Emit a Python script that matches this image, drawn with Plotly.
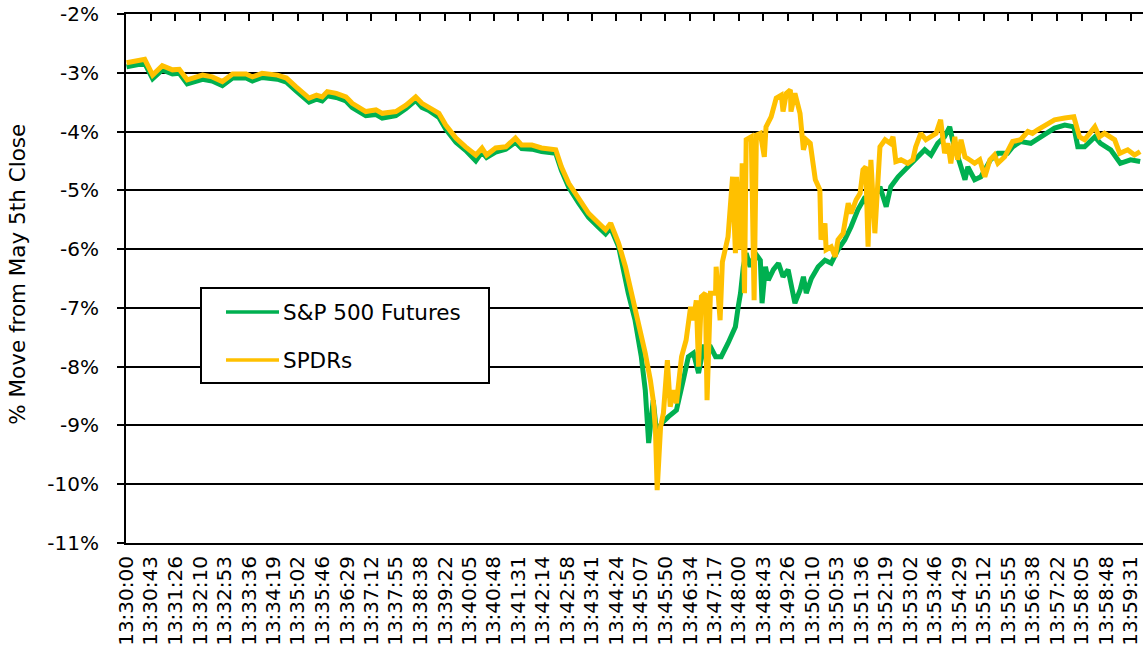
import plotly.graph_objects as go

DAY = "2010-05-06 "

# S&P 500 Futures (green) – time stamps and % move from May 5th close
fut_times = [
    "13:30:00", "13:30:32", "13:30:46", "13:31:03", "13:31:21", "13:31:33", "13:31:47", "13:32:14",
    "13:32:31", "13:32:49", "13:33:07", "13:33:31", "13:33:42", "13:33:59", "13:34:26", "13:34:42",
    "13:34:59", "13:35:22", "13:35:35", "13:35:45", "13:35:54", "13:36:10", "13:36:27", "13:36:38",
    "13:37:02", "13:37:20", "13:37:31", "13:37:55", "13:38:13", "13:38:30", "13:38:41", "13:38:53",
    "13:39:11", "13:39:23", "13:39:41", "13:39:58", "13:40:16", "13:40:27", "13:40:35", "13:40:51",
    "13:41:09", "13:41:26", "13:41:37", "13:41:55", "13:42:12", "13:42:37", "13:42:47", "13:43:00",
    "13:43:17", "13:43:35", "13:43:53", "13:44:05", "13:44:14", "13:44:24", "13:44:28", "13:44:45",
    "13:44:57", "13:45:08", "13:45:15", "13:45:21", "13:45:29", "13:45:35", "13:45:44", "13:45:56",
    "13:46:10", "13:46:22", "13:46:31", "13:46:40", "13:46:49", "13:46:58", "13:47:10", "13:47:19",
    "13:47:29", "13:47:41", "13:47:54", "13:47:59", "13:48:03", "13:48:08", "13:48:13", "13:48:20",
    "13:48:29", "13:48:38", "13:48:41", "13:48:47", "13:48:52", "13:49:01", "13:49:10", "13:49:18",
    "13:49:27", "13:49:39", "13:49:48", "13:49:54", "13:49:59", "13:50:08", "13:50:20", "13:50:32",
    "13:50:43", "13:50:55", "13:51:07", "13:51:18", "13:51:30", "13:51:43", "13:51:51", "13:52:00",
    "13:52:09", "13:52:20", "13:52:28", "13:52:41", "13:52:53", "13:53:04", "13:53:16", "13:53:28",
    "13:53:39", "13:53:51", "13:54:03", "13:54:12", "13:54:17", "13:54:26", "13:54:39", "13:54:44",
    "13:54:56", "13:55:07", "13:55:16", "13:55:24", "13:55:37", "13:55:54", "13:56:03", "13:56:17",
    "13:56:35", "13:56:52", "13:57:17", "13:57:35", "13:57:51", "13:57:58", "13:58:10", "13:58:28",
    "13:58:38", "13:58:56", "13:59:13", "13:59:31", "13:59:48",
]
fut_values = [
    -2.90, -2.84, -3.10, -2.95, -3.02, -3.01, -3.19, -3.11,
    -3.14, -3.22, -3.09, -3.09, -3.14, -3.08, -3.11, -3.16,
    -3.31, -3.50, -3.45, -3.48, -3.39, -3.42, -3.48, -3.59,
    -3.73, -3.71, -3.77, -3.73, -3.61, -3.47, -3.59, -3.64,
    -3.76, -3.96, -4.18, -4.32, -4.50, -4.35, -4.44, -4.35,
    -4.30, -4.18, -4.29, -4.30, -4.34, -4.37, -4.66, -4.95,
    -5.21, -5.46, -5.63, -5.74, -5.64, -5.86, -5.96, -6.75,
    -7.21, -7.83, -8.40, -9.30, -8.57, -9.13, -8.96, -8.85,
    -8.74, -8.23, -7.83, -7.77, -8.11, -7.66, -7.66, -7.83,
    -7.83, -7.60, -7.32, -6.98, -6.75, -6.30, -6.07, -6.30,
    -6.07, -6.19, -6.92, -6.30, -6.53, -6.35, -6.24, -6.47,
    -6.35, -6.92, -6.70, -6.47, -6.75, -6.50, -6.30, -6.19,
    -6.24, -6.01, -5.84, -5.62, -5.33, -5.11, -5.39, -5.11,
    -4.94, -5.28, -4.94, -4.77, -4.65, -4.54, -4.43, -4.31,
    -4.40, -4.20, -4.09, -3.92, -4.14, -4.43, -4.82, -4.60,
    -4.82, -4.77, -4.60, -4.48, -4.37, -4.37, -4.26, -4.17,
    -4.20, -4.09, -3.94, -3.89, -3.92, -4.26, -4.26, -4.09,
    -4.20, -4.31, -4.54, -4.48, -4.51,
]

# SPDRs (gold)
spy_times = [
    "13:30:00", "13:30:32", "13:30:46", "13:31:03", "13:31:21", "13:31:33", "13:31:47", "13:32:14",
    "13:32:31", "13:32:49", "13:33:07", "13:33:31", "13:33:42", "13:33:59", "13:34:26", "13:34:42",
    "13:34:59", "13:35:22", "13:35:35", "13:35:45", "13:35:54", "13:36:10", "13:36:27", "13:36:38",
    "13:37:02", "13:37:20", "13:37:31", "13:37:55", "13:38:13", "13:38:30", "13:38:41", "13:38:53",
    "13:39:11", "13:39:23", "13:39:41", "13:39:58", "13:40:16", "13:40:27", "13:40:35", "13:40:51",
    "13:41:09", "13:41:26", "13:41:37", "13:41:55", "13:42:12", "13:42:37", "13:42:47", "13:43:00",
    "13:43:17", "13:43:35", "13:43:53", "13:44:05", "13:44:14", "13:44:24", "13:44:28", "13:44:40",
    "13:44:51", "13:45:03", "13:45:15", "13:45:24", "13:45:29", "13:45:33", "13:45:36", "13:45:42",
    "13:45:47", "13:45:54", "13:45:59", "13:46:05", "13:46:10", "13:46:19", "13:46:27", "13:46:35",
    "13:46:40", "13:46:45", "13:46:49", "13:46:54", "13:47:01", "13:47:04", "13:47:10", "13:47:19",
    "13:47:20", "13:47:27", "13:47:31", "13:47:41", "13:47:49", "13:47:54", "13:47:56", "13:48:03",
    "13:48:06", "13:48:10", "13:48:13", "13:48:22", "13:48:27", "13:48:31", "13:48:38", "13:48:45",
    "13:48:48", "13:48:57", "13:49:06", "13:49:15", "13:49:18", "13:49:24", "13:49:31", "13:49:32",
    "13:49:39", "13:49:48", "13:49:54", "13:49:59", "13:50:06", "13:50:15", "13:50:23", "13:50:25",
    "13:50:32", "13:50:34", "13:50:43", "13:50:50", "13:50:55", "13:51:04", "13:51:13", "13:51:18",
    "13:51:27", "13:51:34", "13:51:39", "13:51:44", "13:51:48", "13:51:53", "13:52:00", "13:52:09",
    "13:52:18", "13:52:27", "13:52:32", "13:52:37", "13:52:46", "13:52:58", "13:53:07", "13:53:12",
    "13:53:21", "13:53:30", "13:53:39", "13:53:48", "13:53:56", "13:54:03", "13:54:09", "13:54:14",
    "13:54:21", "13:54:26", "13:54:32", "13:54:39", "13:54:47", "13:54:56", "13:55:05", "13:55:14",
    "13:55:23", "13:55:31", "13:55:37", "13:55:49", "13:56:03", "13:56:17", "13:56:30", "13:56:38",
    "13:56:47", "13:57:01", "13:57:17", "13:57:35", "13:57:51", "13:58:01", "13:58:10", "13:58:28",
    "13:58:36", "13:58:45", "13:59:03", "13:59:12", "13:59:26", "13:59:38", "13:59:48",
]
spy_values = [
    -2.83, -2.77, -3.04, -2.88, -2.95, -2.94, -3.12, -3.04,
    -3.07, -3.15, -3.02, -3.02, -3.07, -3.01, -3.04, -3.09,
    -3.24, -3.43, -3.38, -3.41, -3.32, -3.35, -3.41, -3.52,
    -3.66, -3.63, -3.69, -3.66, -3.55, -3.41, -3.52, -3.58,
    -3.69, -3.89, -4.11, -4.26, -4.40, -4.28, -4.40, -4.28,
    -4.26, -4.11, -4.23, -4.23, -4.28, -4.31, -4.60, -4.88,
    -5.14, -5.39, -5.56, -5.67, -5.56, -5.79, -5.90, -6.30,
    -6.75, -7.21, -7.77, -8.23, -8.57, -9.08, -10.10, -9.02,
    -8.79, -7.89, -8.68, -8.40, -8.62, -7.83, -7.55, -6.98,
    -7.21, -6.87, -8.00, -6.81, -6.75, -8.57, -6.75, -6.75,
    -6.30, -7.21, -6.22, -5.79, -4.77, -6.07, -4.77, -6.01,
    -4.54, -6.75, -4.14, -4.09, -6.87, -4.06, -4.03, -4.43,
    -3.92, -3.75, -3.43, -3.38, -3.66, -3.35, -3.29, -3.66,
    -3.35, -3.69, -4.31, -4.14, -4.20, -4.82, -4.99, -5.84,
    -5.56, -6.01, -5.96, -6.13, -5.84, -5.73, -5.22, -5.39,
    -5.16, -5.05, -4.65, -4.60, -5.96, -4.48, -5.73, -4.26,
    -4.14, -4.20, -4.09, -4.51, -4.48, -4.54, -4.48, -4.26,
    -4.03, -4.14, -4.09, -4.03, -3.80, -4.37, -4.20, -4.54,
    -4.09, -4.48, -4.14, -4.43, -4.48, -4.54, -4.48, -4.77,
    -4.48, -4.40, -4.54, -4.43, -4.17, -4.14, -4.00, -4.03,
    -3.97, -3.89, -3.80, -3.77, -3.75, -4.09, -4.14, -3.92,
    -4.09, -4.03, -4.14, -4.37, -4.31, -4.40, -4.34,
]

# Category tick labels
tick_labels = [
    "13:30:00", "13:30:43", "13:31:26", "13:32:10", "13:32:53", "13:33:36", "13:34:19",
    "13:35:02", "13:35:46", "13:36:29", "13:37:12", "13:37:55", "13:38:38", "13:39:22",
    "13:40:05", "13:40:48", "13:41:31", "13:42:14", "13:42:58", "13:43:41", "13:44:24",
    "13:45:07", "13:45:50", "13:46:34", "13:47:17", "13:48:00", "13:48:43", "13:49:26",
    "13:50:10", "13:50:53", "13:51:36", "13:52:19", "13:53:02", "13:53:46", "13:54:29",
    "13:55:12", "13:55:55", "13:56:38", "13:57:22", "13:58:05", "13:58:48", "13:59:31",
]
y_ticks = [-2, -3, -4, -5, -6, -7, -8, -9, -10, -11]

series_names = ["S&P 500 Futures", "SPDRs"]
series_colors = ["#00B050", "#FFC000"]

FONT = "DejaVu Sans"
W, H = 1143, 666
L, R, T, B = 126, 0, 14, 123
PW, PH = W - L - R, H - T - B

fig = go.Figure()
fig.add_trace(go.Scatter(
    x=[DAY + t for t in fut_times], y=fut_values, mode="lines", name=series_names[0],
    line=dict(color=series_colors[0], width=5), showlegend=False,
))
fig.add_trace(go.Scatter(
    x=[DAY + t for t in spy_times], y=spy_values, mode="lines", name=series_names[1],
    line=dict(color=series_colors[1], width=5), showlegend=False,
))
# invisible trace to activate the top tick axis
fig.add_trace(go.Scatter(
    x=[DAY + tick_labels[0]], y=[-2], xaxis="x2", mode="markers",
    marker=dict(opacity=0), showlegend=False, hoverinfo="skip",
))

tickvals = [DAY + t for t in tick_labels]
xrange = [DAY + "13:29:59", DAY + "13:59:53"]

fig.update_layout(
    width=W, height=H,
    margin=dict(l=L, r=R, t=T, b=B, autoexpand=False),
    paper_bgcolor="white", plot_bgcolor="white",
    font=dict(family=FONT, color="black", size=19),
    showlegend=False,
    xaxis=dict(
        type="date", range=xrange, tickmode="array", tickvals=tickvals, ticktext=tick_labels,
        tickangle=-90, ticks="", showgrid=False, zeroline=False,
        showline=True, linecolor="black", linewidth=2,
        tickfont=dict(family=FONT, size=20), ticklabelstandoff=3,
        ticklabeloverflow="allow",
    ),
    xaxis2=dict(
        type="date", range=xrange, overlaying="x", side="top", anchor="y",
        tickmode="array", tickvals=tickvals, showticklabels=False,
        ticks="inside", ticklen=7, tickwidth=1.5, tickcolor="black",
        showgrid=False, zeroline=False, showline=True, linecolor="black", linewidth=2,
    ),
    yaxis=dict(
        range=[-11, -2], tickmode="array", tickvals=y_ticks,
        ticktext=[f"{v}%" for v in y_ticks],
        ticks="outside", ticklen=7, tickwidth=2, tickcolor="black",
        showgrid=True, gridcolor="black", gridwidth=2, zeroline=False,
        showline=True, linecolor="black", linewidth=2,
        tickfont=dict(family=FONT, size=20), ticklabelstandoff=14,
    ),
)

# y-axis title
fig.add_annotation(
    text="% Move from May 5th Close", textangle=-90,
    xref="paper", yref="paper", x=(18 - L) / PW, y=0.507,
    xanchor="center", yanchor="middle", showarrow=False,
    font=dict(family=FONT, size=21.5, color="black"),
)

# legend box (drawn in paper coordinates)
def px(xp):
    return (xp - L) / PW

def py(yp):
    return (H - B - yp) / PH

fig.add_shape(type="rect", xref="paper", yref="paper",
              x0=px(201), x1=px(489), y0=py(383), y1=py(288),
              line=dict(color="black", width=2), fillcolor="white", layer="above")
for name, color, yy in zip(series_names, series_colors, [312, 360]):
    fig.add_shape(type="line", xref="paper", yref="paper",
                  x0=px(226), x1=px(279), y0=py(yy), y1=py(yy),
                  line=dict(color=color, width=3.5), layer="above")
    fig.add_annotation(text=name, xref="paper", yref="paper", x=px(281), y=py(yy),
                       xanchor="left", yanchor="middle", showarrow=False,
                       font=dict(family=FONT, size=21.5, color="black"))

fig.write_html("out.html", config={"displayModeBar": False},
               post_script="document.body.style.margin='0';")
